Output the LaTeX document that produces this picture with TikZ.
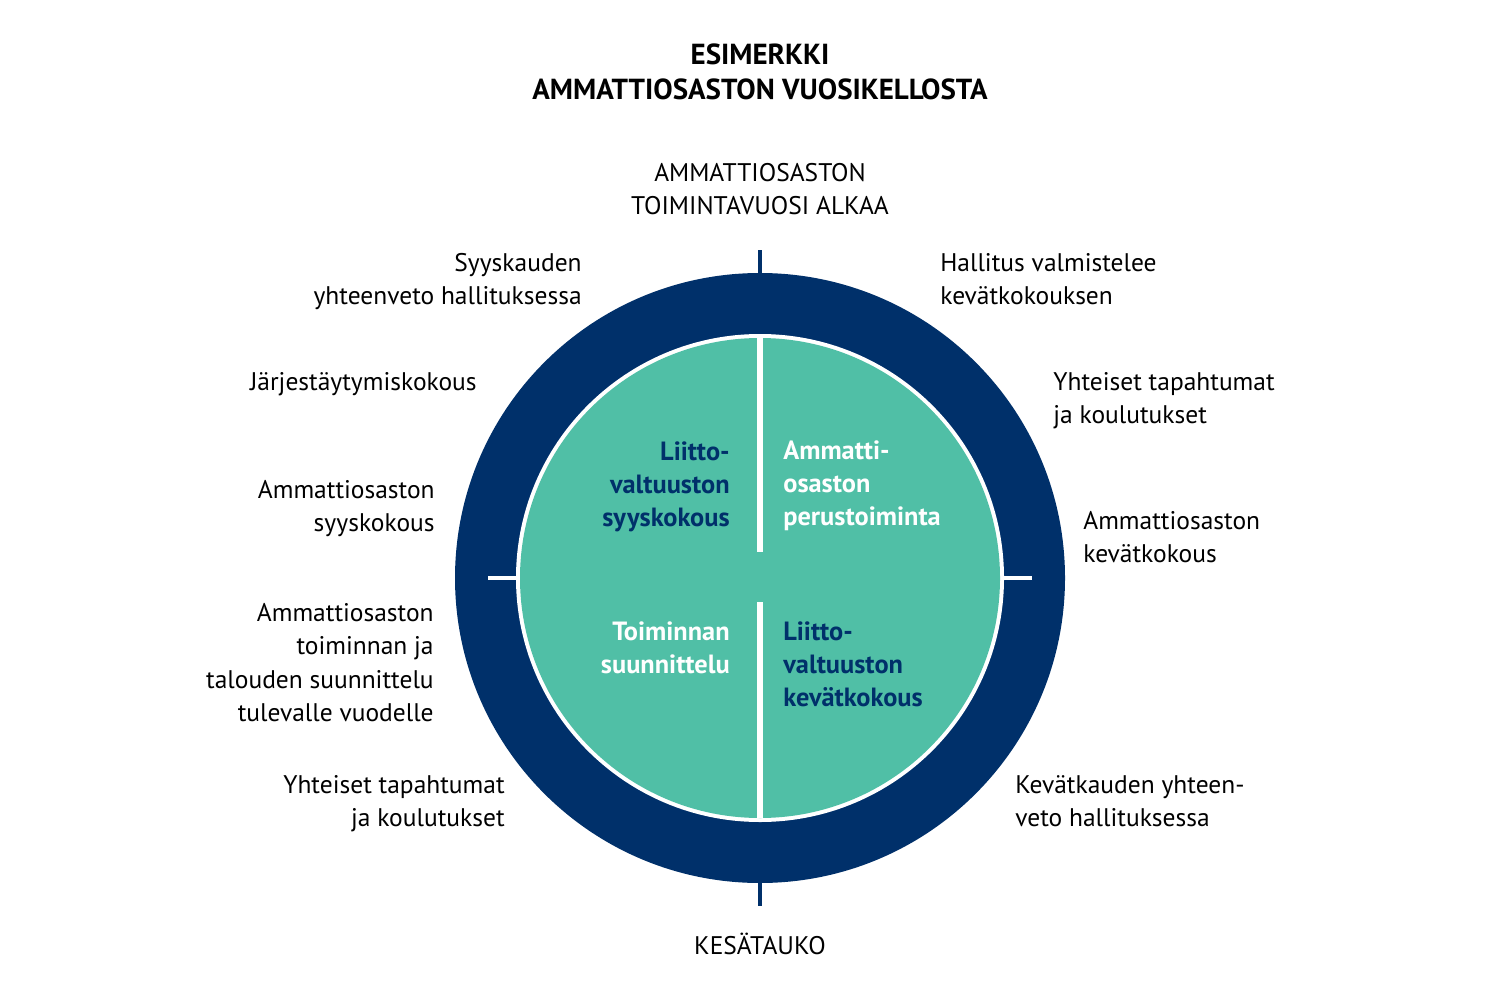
\documentclass[tikz,border=0pt]{standalone}
\usepackage{fontspec}
\setmainfont{PT Sans}
\definecolor{navy}{HTML}{00306A}
\definecolor{teal}{HTML}{50BFA6}
\begin{document}
\begin{tikzpicture}[x=0.02cm,y=-0.02cm,
  lbl/.style={inner sep=0pt,font=\fontsize{14.5}{19}\selectfont},
  ttl/.style={inner sep=0pt,align=center,font=\fontsize{16.5}{20}\selectfont\bfseries},
  inn/.style={inner sep=0pt,font=\fontsize{15}{19}\selectfont\bfseries}]
\useasboundingbox[fill=white] (0,0) rectangle (1500,1000);
\coordinate (c) at (760,578);
\fill[navy] (c) circle[radius=305];
\fill[white] (c) circle[radius=244];
\fill[teal] (c) circle[radius=240];
\draw[white,line width=3.5pt] (760,338) -- (760,552);
\draw[white,line width=3.5pt] (760,602) -- (760,818);
\draw[white,line width=2pt] (488,578) -- (519,578);
\draw[white,line width=2pt] (1001,578) -- (1032,578);
\draw[navy,line width=2pt] (760,250) -- (760,274);
\draw[navy,line width=2pt] (760,882) -- (760,906);
\node[ttl] (t) at (760,72) {ESIMERKKI\\AMMATTIOSASTON VUOSIKELLOSTA};
\node[lbl,align=center,anchor=north] (a) at (760,163) {AMMATTIOSASTON\\TOIMINTAVUOSI ALKAA};
\node[lbl,align=right,anchor=north east] (b) at (582,253) {Syyskauden\\yhteenveto hallituksessa};
\node[lbl,align=left,anchor=north west] (d) at (940,253) {Hallitus valmistelee\\kevätkokouksen};
\node[lbl,align=right,anchor=north east] (e) at (477,372) {Järjestäytymiskokous};
\node[lbl,align=left,anchor=north west] (f) at (1053,372) {Yhteiset tapahtumat\\ja koulutukset};
\node[lbl,align=right,anchor=north east] (g) at (435,480) {Ammattiosaston\\syyskokous};
\node[lbl,align=left,anchor=north west] (h) at (1083,511) {Ammattiosaston\\kevätkokous};
\node[lbl,align=right,anchor=north east] (i) at (434,603) {Ammattiosaston\\toiminnan ja\\talouden suunnittelu\\tulevalle vuodelle};
\node[lbl,align=right,anchor=north east] (j) at (505,775) {Yhteiset tapahtumat\\ja koulutukset};
\node[lbl,align=left,anchor=north west] (k) at (1015,775) {Kevätkauden yhteen-\\veto hallituksessa};
\node[lbl,align=center,anchor=north] (l) at (760,933) {KESÄTAUKO};
\node[inn,navy,align=right,anchor=north east] (m) at (730,441) {Liitto-\\valtuuston\\syyskokous};
\node[inn,white,align=left,anchor=north west] (n) at (783,440) {Ammatti-\\osaston\\perustoiminta};
\node[inn,white,align=right,anchor=north east] (o) at (730,621) {Toiminnan\\suunnittelu};
\node[inn,navy,align=left,anchor=north west] (p) at (783,621) {Liitto-\\valtuuston\\kevätkokous};
\end{tikzpicture}
\end{document}
